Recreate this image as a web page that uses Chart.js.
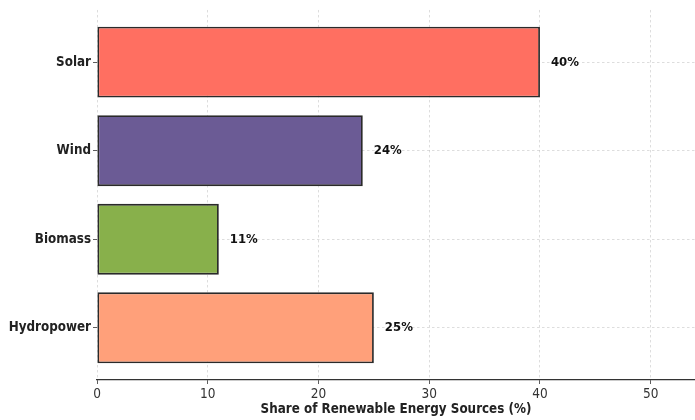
<!DOCTYPE html>
<html>
<head>
<meta charset="utf-8">
<script src="https://cdn.jsdelivr.net/npm/chart.js@4"></script>
<style>
html,body{margin:0;padding:0;background:#fff;}
#wrap{width:695px;height:420px;position:relative;}
</style>
</head>
<body>
<div id="wrap"><canvas id="c" width="695" height="420"></canvas></div>
<script>
const categories = ["Solar", "Wind", "Biomass", "Hydropower"];
const shares = [40, 24, 11, 25];
const barColors = ["#FF6F61", "#6B5B95", "#88B04B", "#FFA07A"];
const xTicks = [0, 10, 20, 30, 40, 50];
const xTitle = "Share of Renewable Energy Sources (%)";

const FONT = "'DejaVu Sans Condensed', 'DejaVu Sans', sans-serif";

const valueLabels = {
  id: 'valueLabels',
  afterDatasetsDraw(chart) {
    const ctx = chart.ctx;
    const meta = chart.getDatasetMeta(0);
    ctx.save();
    ctx.font = "bold 13px " + FONT;
    ctx.fillStyle = "#111";
    ctx.textAlign = "left";
    ctx.textBaseline = "middle";
    meta.data.forEach((bar, i) => {
      ctx.fillText(shares[i] + "%", bar.x + 11, bar.y);
    });
    ctx.restore();
  }
};

new Chart(document.getElementById('c'), {
  type: 'bar',
  data: {
    datasets: [{
      data: shares.map((v, i) => ({x: v, y: i})),
      backgroundColor: barColors,
      borderColor: "#2a2a2a",
      borderWidth: 1.8,
      borderSkipped: false,
      barPercentage: 0.8,
      categoryPercentage: 1.0
    }]
  },
  options: {
    indexAxis: 'y',
    responsive: false,
    animation: false,
    layout: {padding: {top: 8, right: 0, left: 0, bottom: 0}},
    plugins: {legend: {display: false}, tooltip: {enabled: false}},
    scales: {
      x: {
        type: 'linear',
        min: 0, max: 54,
        offset: false,
        z: 1,
        afterBuildTicks(axis) { axis.ticks = xTicks.map(v => ({value: v})); },
        afterFit(axis) { axis.height = 40; },
        grid: {offset: false, color: "rgba(0,0,0,0.17)", lineWidth: 0.8, tickColor: "#333", tickLength: 4, tickBorderDash: []},
        border: {display: true, color: "#333", width: 1.2, dash: [2.5, 2.5]},
        ticks: {font: {family: FONT, size: 13.5}, color: "#333", padding: 2},
        title: {display: true, text: xTitle, font: {family: FONT, size: 13.3, weight: 'bold'}, color: "#222", padding: {top: 0, bottom: 2}}
      },
      y: {
        type: 'linear',
        reverse: true,
        min: -0.59, max: 3.59,
        offset: false,
        z: 1,
        afterBuildTicks(axis) { axis.ticks = categories.map((c, i) => ({value: i})); },
        afterFit(axis) { axis.width = 97; },
        grid: {offset: false, color: "rgba(0,0,0,0.17)", lineWidth: 0.8, tickColor: "#333", tickLength: 4, tickBorderDash: []},
        border: {display: false, dash: [2.5, 2.5]},
        ticks: {font: {family: FONT, size: 13.3, weight: 'bold'}, color: "#222", padding: 2,
          callback: (v) => categories[v]}
      }
    }
  },
  plugins: [valueLabels]
});
</script>
</body>
</html>
